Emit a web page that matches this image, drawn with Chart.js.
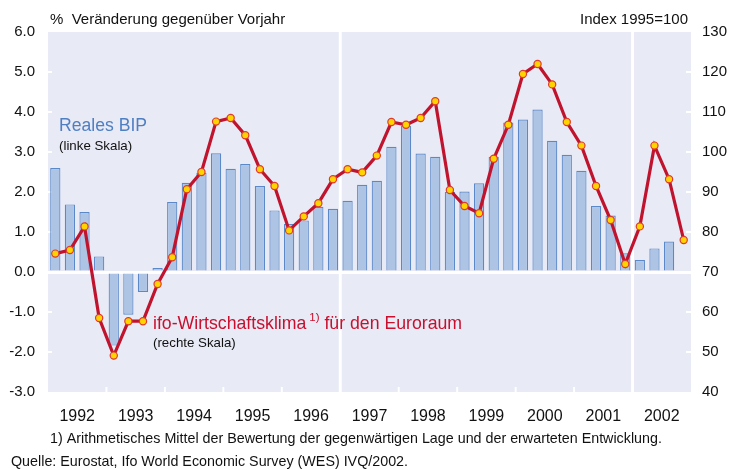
<!DOCTYPE html>
<html lang="de">
<head>
<meta charset="UTF-8">
<title>Reales BIP und ifo-Wirtschaftsklima</title>
<style>
  body { margin: 0; background: #fff; }
</style>
</head>
<body>
<canvas id="chart" width="735" height="470"></canvas>
<script src="https://cdn.jsdelivr.net/npm/chart.js@4.4.0/dist/chart.umd.min.js"></script>
<script>
// quarterly data, 1992 Q1 .. 2002 Q4
const years = ['1992', '1993', '1994', '1995', '1996', '1997', '1998', '1999', '2000', '2001', '2002'];
const quarters = [];
years.forEach(y => { for (let q = 1; q <= 4; q++) quarters.push(y + ' Q' + q); });

// Reales BIP, % change vs. previous year (left scale), last quarter missing
const bip = [
  2.60, 1.69, 1.50, 0.39,
  -1.84, -1.07, -0.50, 0.10,
  1.75, 2.23, 2.48, 2.97,
  2.58, 2.70, 2.15, 1.54,
  1.20, 1.29, 1.63, 1.58,
  1.78, 2.18, 2.28, 3.13,
  3.65, 2.96, 2.88, 2.00,
  2.01, 2.22, 2.88, 3.74,
  3.81, 4.06, 3.28, 2.93,
  2.53, 1.65, 1.41, 0.47,
  0.30, 0.59, 0.76, null
];

// ifo-Wirtschaftsklima Euroraum, index 1995=100 (right scale)
const ifo = [
  74.6, 75.5, 81.4, 58.5,
  49.1, 57.7, 57.7, 67.0,
  73.7, 90.7, 95.0, 107.6,
  108.5, 104.2, 95.7, 91.5,
  80.4, 83.9, 87.2, 93.2,
  95.7, 94.9, 99.1, 107.5,
  106.8, 108.5, 112.7, 90.5,
  86.5, 84.7, 98.3, 106.8,
  119.5, 122.0, 116.9, 107.5,
  101.6, 91.5, 83.0, 72.0,
  81.4, 101.6, 93.2, 78.0
];

const FONT = '"Liberation Sans", Arial, sans-serif';
const BG = '#e8eaf5';

// plot background, white separators and small inner ticks
const decor = {
  id: 'decor',
  beforeDraw(chart) {
    const a = chart.chartArea, c = chart.ctx;
    c.save();
    c.fillStyle = BG;
    c.fillRect(a.left, a.top, a.right - a.left, a.bottom - a.top);
    c.restore();
  },
  beforeDatasetsDraw(chart) {
    const a = chart.chartArea, c = chart.ctx;
    const x = chart.scales.x, y = chart.scales.y;
    const bound = i => (x.getPixelForValue(i - 1) + x.getPixelForValue(i)) / 2;
    c.save();
    c.strokeStyle = '#fff';
    // full separators
    c.lineWidth = 3;
    [20, 40].forEach(i => {
      const px = bound(i);
      c.beginPath(); c.moveTo(px, a.top); c.lineTo(px, a.bottom); c.stroke();
    });
    // year ticks at bottom
    c.lineWidth = 2;
    for (let i = 4; i < quarters.length; i += 4) {
      if (i === 20 || i === 40) continue;
      const px = bound(i);
      c.beginPath(); c.moveTo(px, a.bottom); c.lineTo(px, a.bottom - 5); c.stroke();
    }
    // edge ticks
    for (let v = -2; v <= 5; v++) {
      if (v === 0) continue;
      const py = y.getPixelForValue(v);
      c.beginPath(); c.moveTo(a.left, py); c.lineTo(a.left + 4, py); c.stroke();
      c.beginPath(); c.moveTo(a.right, py); c.lineTo(a.right - 5, py); c.stroke();
    }
    c.restore();
  },
  afterDraw(chart) {
    const c = chart.ctx;
    c.save();
    c.textBaseline = 'middle';
    c.fillStyle = '#111';
    c.font = '15px ' + FONT;
    c.textAlign = 'left';
    c.fillText('%  Veränderung gegenüber Vorjahr', 50, 20);
    c.textAlign = 'right';
    c.fillText('Index 1995=100', 688, 20);

    c.textAlign = 'left';
    c.fillStyle = '#4f7fc3';
    c.font = '17.6px ' + FONT;
    c.fillText('Reales BIP', 59, 126);
    c.fillStyle = '#111';
    c.font = '13.3px ' + FONT;
    c.fillText('(linke Skala)', 59, 146);

    c.fillStyle = '#c8102e';
    c.font = '17.7px ' + FONT;
    const t1 = 'ifo-Wirtschaftsklima';
    c.fillText(t1, 153, 324);
    let px = 153 + c.measureText(t1).width + 3;
    c.font = '11.5px ' + FONT;
    c.fillText('1)', px, 318);
    px += c.measureText('1)').width;
    c.font = '17.7px ' + FONT;
    c.fillText(' für den Euroraum', px, 324);
    c.fillStyle = '#111';
    c.font = '13.3px ' + FONT;
    c.fillText('(rechte Skala)', 153, 343);

    c.font = '14.3px ' + FONT;
    c.fillText('1) Arithmetisches Mittel der Bewertung der gegenwärtigen Lage und der erwarteten Entwicklung.', 50, 439);
    c.fillText('Quelle: Eurostat, Ifo World Economic Survey (WES) IVQ/2002.', 11, 462);
    c.restore();
  }
};

const config = {
  type: 'bar',
  data: {
    labels: quarters,
    datasets: [
      {
        type: 'line',
        label: 'ifo-Wirtschaftsklima',
        data: ifo,
        yAxisID: 'y1',
        borderColor: '#c0142e',
        borderWidth: 3.2,
        tension: 0,
        pointRadius: 3.6,
        pointBackgroundColor: '#ffd400',
        pointBorderColor: '#e03a2a',
        pointBorderWidth: 1.2,
        order: 0
      },
      {
        label: 'Reales BIP',
        data: bip,
        yAxisID: 'y',
        backgroundColor: '#aec4e4',
        borderColor: '#5b88c8',
        borderWidth: 1.2,
        barPercentage: 0.7,
        categoryPercentage: 1,
        order: 1
      }
    ]
  },
  options: {
    responsive: false,
    animation: false,
    layout: { padding: { top: 32, left: 0, right: 0, bottom: 0 } },
    plugins: {
      legend: { display: false },
      tooltip: { enabled: false }
    },
    scales: {
      x: {
        offset: true,
        grid: { display: false },
        border: { display: false },
        ticks: {
          autoSkip: false,
          maxRotation: 0,
          labelOffset: 7.3,
          padding: 7,
          color: '#111',
          font: { family: FONT, size: 16 },
          callback: (v, i) => (i % 4 === 1 ? years[(i - 1) / 4] : '')
        },
        afterFit: s => { s.height = 78; }
      },
      y: {
        position: 'left',
        min: -3,
        max: 6,
        border: { display: false },
        grid: {
          drawTicks: false,
          color: ctx => (ctx.tick && ctx.tick.value === 0 ? '#ffffff' : 'rgba(0,0,0,0)'),
          lineWidth: 3
        },
        ticks: {
          stepSize: 1,
          padding: 13,
          color: '#111',
          font: { family: FONT, size: 15 },
          callback: v => v.toFixed(1)
        },
        afterFit: s => { s.width = 48; }
      },
      y1: {
        position: 'right',
        min: 40,
        max: 130,
        border: { display: false },
        grid: { display: false, drawTicks: false },
        ticks: {
          stepSize: 10,
          padding: 11,
          color: '#111',
          font: { family: FONT, size: 15 }
        },
        afterFit: s => { s.width = 44; }
      }
    }
  },
  plugins: [decor]
};

new Chart(document.getElementById('chart'), config);
</script>
</body>
</html>
